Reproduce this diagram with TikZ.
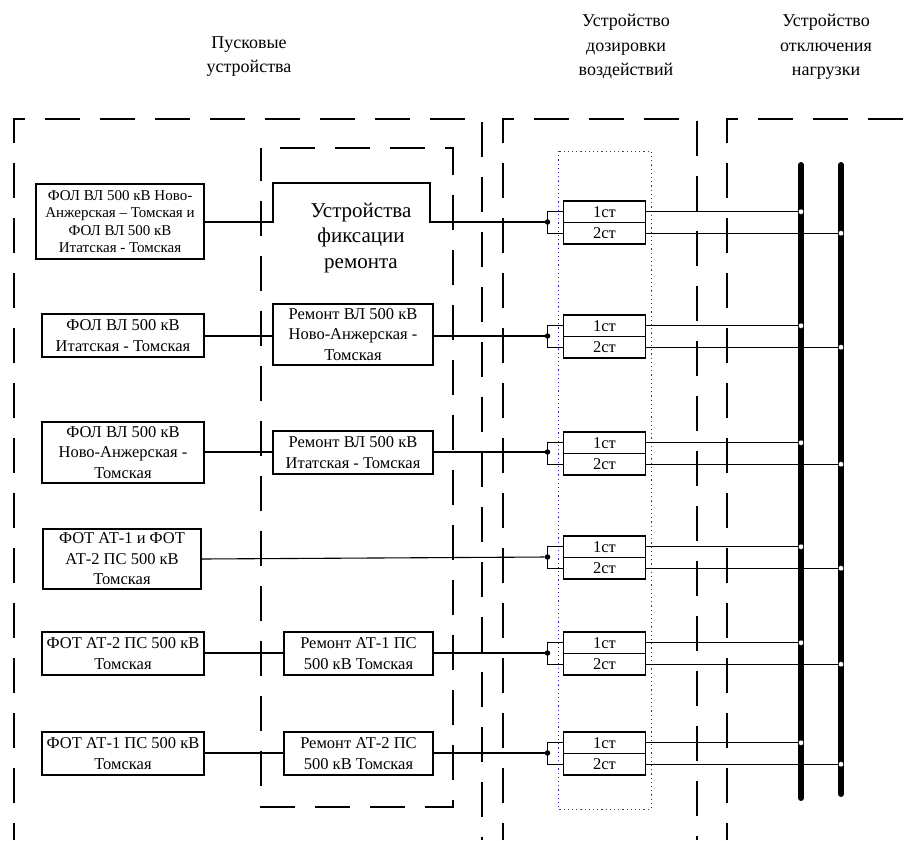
\documentclass[tikz,border=0pt]{standalone}
\usepackage{fontspec}
\setmainfont{Liberation Serif}
\definecolor{dotblue}{RGB}{50,50,200}
\begin{document}
\begin{tikzpicture}[x=1pt,y=-1pt,
  frame/.style={line width=2.6pt, dash pattern=on 35pt off 20pt},
  box/.style={draw, line width=1.1pt, inner sep=0pt, align=center, font=\fontsize{16.5}{20.5}\selectfont},
  stbox/.style={draw, line width=1.1pt, inner sep=0pt, minimum width=82pt, minimum height=21.5pt, font=\fontsize{16.5}{20}\selectfont},
  wire/.style={line width=1.1pt},
  head/.style={align=center, font=\fontsize{18}{24.5}\selectfont},
  jdot/.style={circle, fill=black, inner sep=0pt, minimum size=5.5pt},
  odot/.style={circle, fill=white, draw=black, line width=0.4pt, inner sep=0pt, minimum size=5.5pt},
  bus/.style={line width=6pt, line cap=round}]
\useasboundingbox (0,0) rectangle (912,840);

% headers
\node[head] (h1) at (249,56.5) {Пусковые\\устройства};
\node[head] (h2) at (626,47) {Устройство\\дозировки\\воздействий};
\node[head] (h3) at (826,47) {Устройство\\отключения\\нагрузки};

% dashed frames
\draw[frame, dash phase=18pt] (14,840) -- (14,119) -- (482,119) -- (482,840);
\draw[frame, dash phase=18pt] (503,840) -- (503,119) -- (697,119) -- (697,840);
\draw[frame, dash phase=18pt] (727,840) -- (727,119) -- (912,119);
\draw[frame, dash phase=36pt] (261,148) -- (453,148) -- (453,807) -- (261,807) -- cycle;
\draw[dotblue, line width=1pt, dash pattern=on 1.2pt off 3pt] (558,151) rectangle (651,809);

% bus bars
\coordinate (busAtop) at (801,165);
\coordinate (busAbot) at (801,798);
\coordinate (busBtop) at (841,165);
\coordinate (busBbot) at (841,794);
\draw[bus] (busAtop) -- (busAbot);
\draw[bus] (busBtop) -- (busBbot);

% left boxes (starting devices)
\node[box, minimum width=168pt, minimum height=75pt, font=\fontsize{15}{17.3}\selectfont] (a1) at (120,221.5)
  {ФОЛ ВЛ 500 кВ Ново-\\Анжерская – Томская и\\ФОЛ ВЛ 500 кВ\\Итатская - Томская};
\node[box, minimum width=162pt, minimum height=43pt] (a2) at (123,335.5) {ФОЛ ВЛ 500 кВ\\Итатская - Томская};
\node[box, minimum width=162pt, minimum height=61pt] (a3) at (123,452.5) {ФОЛ ВЛ 500 кВ\\Ново-Анжерская -\\Томская};
\node[box, minimum width=158pt, minimum height=60pt] (a4) at (122,559) {ФОТ АТ-1 и ФОТ\\АТ-2 ПС 500 кВ\\Томская};
\node[box, minimum width=162pt, minimum height=43pt] (a5) at (123,653.5) {ФОТ АТ-2 ПС 500 кВ\\Томская};
\node[box, minimum width=162pt, minimum height=43pt] (a6) at (123,753.5) {ФОТ АТ-1 ПС 500 кВ\\Томская};

% repair fixation devices
\node[align=center, inner sep=0pt, font=\fontsize{21}{25.5}\selectfont] (b1) at (361,238) {Устройства\\фиксации\\ремонта};
\node[box, minimum width=160pt, minimum height=61pt] (b2) at (353,334.5) {Ремонт ВЛ 500 кВ\\Ново-Анжерская -\\Томская};
\node[box, minimum width=160pt, minimum height=43pt] (b3) at (353,452.5) {Ремонт ВЛ 500 кВ\\Итатская - Томская};
\node[box, minimum width=149pt, minimum height=43pt] (b5) at (358.5,653.5) {Ремонт АТ-1 ПС\\500 кВ Томская};
\node[box, minimum width=149pt, minimum height=43pt] (b6) at (358.5,753.5) {Ремонт АТ-2 ПС\\500 кВ Томская};

% dosing stages
\foreach \k/\T/\yin in {1/201/222, 2/315/336, 3/432/452, 4/536/557, 5/632/653, 6/732/753}{
  \node[stbox] (s1-\k) at (604.5,\T+10.75) {1ст};
  \node[stbox] (s2-\k) at (604.5,\T+32.25) {2ст};
  \node[jdot] (j\k) at (547.5,\yin) {};
  \draw[wire] (s1-\k.west) -| (j\k.center) |- (s2-\k.west);
  \draw[wire] (s1-\k.east) -- (s1-\k.east -| busAtop);
  \draw[wire] (s2-\k.east) -- (s2-\k.east -| busBtop);
  \node[odot] (oa\k) at (s1-\k.east -| busAtop) {};
  \node[odot] (ob\k) at (s2-\k.east -| busBtop) {};
}

% connections
\draw[wire] (a1.east |- j1) -- (273,222) -- (273,183) -- (430,183) -- (430,222) -- (j1);
\draw[wire] (a2.east |- j2) -- (b2.west |- j2);
\draw[wire] (b2.east |- j2) -- (j2);
\draw[wire] (a3.east |- j3) -- (b3.west |- j3);
\draw[wire] (b3.east |- j3) -- (j3);
\draw[wire] (a4.east) -- (j4);
\draw[wire] (a5.east |- j5) -- (b5.west |- j5);
\draw[wire] (b5.east |- j5) -- (j5);
\draw[wire] (a6.east |- j6) -- (b6.west |- j6);
\draw[wire] (b6.east |- j6) -- (j6);
\end{tikzpicture}
\end{document}
